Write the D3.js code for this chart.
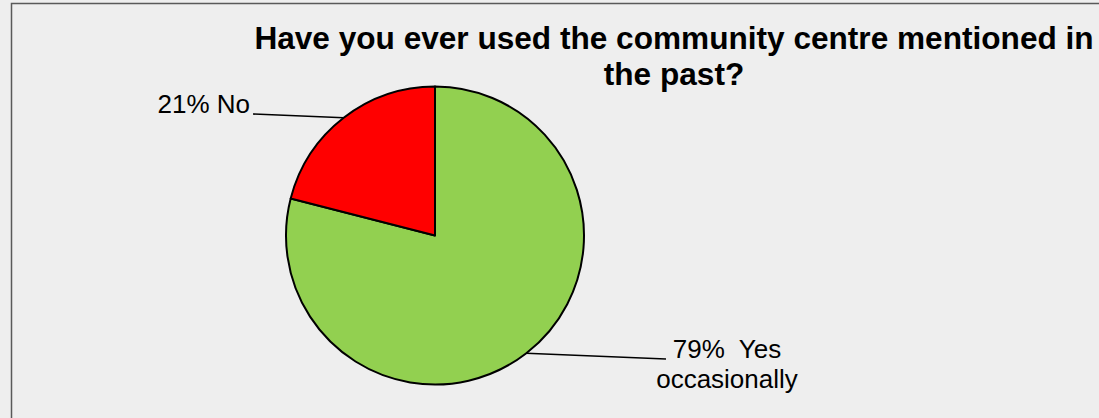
<!DOCTYPE html>
<html>
<head>
<meta charset="utf-8">
<script src="https://cdn.jsdelivr.net/npm/d3@7"></script>
<style>
  html, body { margin: 0; padding: 0; background: #eeeeee; overflow: hidden; }
  svg { display: block; }
</style>
</head>
<body>
<svg id="chart" width="1099" height="418"></svg>
<script>
// Survey answers, in drawing order (clockwise from 12 o'clock)
const categories = ["Yes occasionally", "No"];
const values = [79, 21];
const labelLines = [["79%  Yes", "occasionally"], ["21% No"]];
const colors = ["#92d050", "#ff0000"];
const titleLines = ["Have you ever used the community centre mentioned in", "the past?"];

const W = 1099, H = 418;
const svg = d3.select("#chart");

// Chart area frame
svg.append("rect")
  .attr("x", 11.5).attr("y", 3.5)
  .attr("width", W + 20).attr("height", H + 20)
  .attr("fill", "#eeeeee")
  .attr("stroke", "#595959")
  .attr("stroke-width", 1.5);

// Title
const title = svg.append("text")
  .attr("font-family", "Liberation Sans, Arial, sans-serif")
  .attr("font-weight", "bold")
  .attr("font-size", 31.6)
  .attr("fill", "#000")
  .attr("text-anchor", "middle");
title.selectAll("tspan").data(titleLines).join("tspan")
  .attr("x", 674)
  .attr("y", (d, i) => 49 + i * 36)
  .text(d => d);

// Pie
const cx = 435, cy = 235.5, r = 149;
const pie = d3.pie().sort(null).value(d => d)(values);
const arc = d3.arc().innerRadius(0).outerRadius(r);

const g = svg.append("g").attr("transform", `translate(${cx},${cy})`);
g.selectAll("path").data(pie).join("path")
  .attr("d", arc)
  .attr("fill", (d, i) => colors[i])
  .attr("stroke", "#000")
  .attr("stroke-width", 2)
  .attr("stroke-linejoin", "round");

// Data labels with leader lines
const labelPos = [
  { x: 727, y: 358, anchor: "middle", lineEnd: [666, 359] },
  { x: 250, y: 113, anchor: "end", lineEnd: [253, 114] }
];

pie.forEach((d, i) => {
  const mid = (d.startAngle + d.endAngle) / 2;
  const px = cx + Math.sin(mid) * r;
  const py = cy - Math.cos(mid) * r;
  const lp = labelPos[i];
  svg.append("line")
    .attr("x1", px).attr("y1", py)
    .attr("x2", lp.lineEnd[0]).attr("y2", lp.lineEnd[1])
    .attr("stroke", "#000")
    .attr("stroke-width", 1.5);

  const t = svg.append("text")
    .attr("font-family", "Liberation Sans, Arial, sans-serif")
    .attr("font-size", 26)
    .attr("fill", "#000")
    .attr("text-anchor", lp.anchor)
    .attr("xml:space", "preserve")
    .style("white-space", "pre");
  t.selectAll("tspan").data(labelLines[i]).join("tspan")
    .attr("x", lp.x)
    .attr("y", (s, k) => lp.y + k * 30)
    .text(s => s);
});
</script>
</body>
</html>
